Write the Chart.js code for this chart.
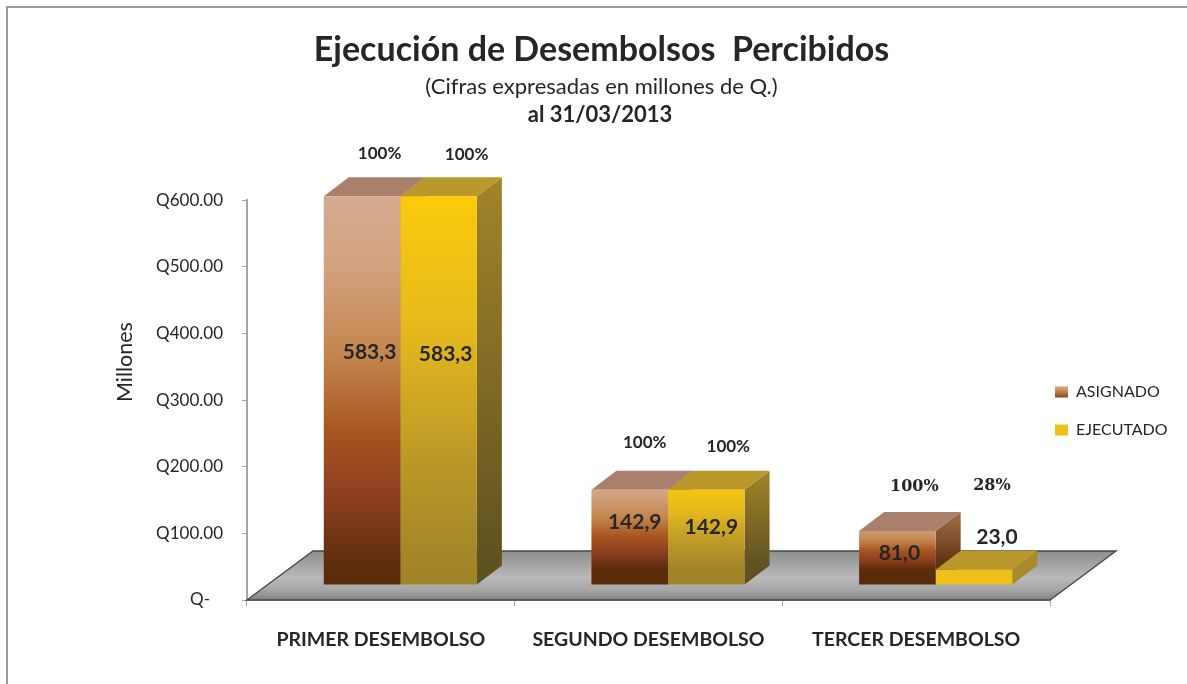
<!DOCTYPE html>
<html>
<head>
<meta charset="utf-8">
<style>html,body{margin:0;padding:0;background:#fff}canvas{display:block}</style>
<script src="https://cdn.jsdelivr.net/npm/chart.js@4"></script>
</head>
<body>
<canvas id="c" width="1187" height="684"></canvas>
<script>
const categories = ['PRIMER DESEMBOLSO', 'SEGUNDO DESEMBOLSO', 'TERCER DESEMBOLSO'];
const asignado = [583.3, 142.9, 81.0];
const ejecutado = [583.3, 142.9, 23.0];
const pctAsignado = [100, 100, 100];
const pctEjecutado = [100, 100, 28];
const yMax = 600, yStep = 100;

// layout of the fake 3D look (pixels)
const SHIFT = {x: 19.5, y: -15};
const DEPTH = {x: 25, y: -19};
const FLOOR = {x: 66, y: -49};
const FF = 'Lato, "Open Sans", sans-serif';
const TXT = '#262626';
const valueOffsets = [[[7.5,156],[5,32],[2,22]], [[7,158],[5,37],[23,-32]]];
const pctOffsets = [[[17.5,-43],[15,-47],[17,-44]], [[28,-42],[22,-43],[18,-84]]];

function vGrad(ctx, top, bottom, stops) {
  const g = ctx.createLinearGradient(0, top, 0, bottom);
  stops.forEach(s => g.addColorStop(s[0], s[1]));
  return g;
}
const S_ASIG = [[0,'#d6ab94'],[0.2,'#d3a482'],[0.45,'#c4854d'],[0.65,'#a7541f'],[0.8,'#8f4020'],[1,'#5b2c0b']];
const S_EJEC = [[0,'#fdcc09'],[0.35,'#e8bb1c'],[0.7,'#bd9a27'],[1,'#a08428']];
function barColor(stops, flat) {
  return c => {
    const ch = c.chart;
    if (c.type !== 'data' || !ch.chartArea) return flat;
    const y = ch.scales.y;
    const t = y.getPixelForValue(c.raw) + SHIFT.y, b = y.getPixelForValue(0) + SHIFT.y;
    if (b - t < 30) return flat;
    return vGrad(ch.ctx, t, b, stops);
  };
}

const pseudo3D = {
  id: 'pseudo3D',
  afterLayout(chart) {
    chart.legend.top += 69; chart.legend.bottom += 69;
    chart.legend.left -= 17; chart.legend.right -= 17;
    const y = chart.scales.y;
    if (!y._titleShifted) {
      const orig = y.drawTitle;
      y.drawTitle = function () {
        this.top -= 38; this.bottom -= 38;
        orig.call(this);
        this.top += 38; this.bottom += 38;
      };
      y._titleShifted = true;
    }
  },
  beforeDraw(chart) {
    const {ctx, width, height} = chart;
    ctx.save();
    ctx.strokeStyle = '#9c9c9c'; ctx.lineWidth = 2;
    ctx.beginPath(); ctx.moveTo(7, height); ctx.lineTo(7, 7); ctx.lineTo(width, 7); ctx.stroke();
    ctx.restore();
  },
  beforeDatasetsDraw(chart) {
    const {ctx, chartArea: a} = chart;
    ctx.save();
    // floor
    const by = chart.scales.y.getPixelForValue(0);
    ctx.beginPath();
    ctx.moveTo(a.left, by); ctx.lineTo(a.right, by);
    ctx.lineTo(a.right + FLOOR.x, by + FLOOR.y); ctx.lineTo(a.left + FLOOR.x, by + FLOOR.y); ctx.closePath();
    ctx.fillStyle = vGrad(ctx, by + FLOOR.y, by, [[0,'#8e8e8e'],[0.55,'#b9b9b9'],[0.8,'#a6a6a6'],[1,'#7f7f7f']]);
    ctx.fill();
    ctx.strokeStyle = '#4a4a3c'; ctx.lineWidth = 1.4; ctx.stroke();
    // tops and sides of each bar
    const tops = ['#a8806c', '#bb982c'];
    const sides = [[[0,'#a36f48'],[1,'#5f300f']], [[0,'#a2842a'],[1,'#5f5120']]];
    [0, 1].forEach(ds => {
      chart.getDatasetMeta(ds).data.forEach(el => {
        const L = el.x - el.width / 2 + SHIFT.x, R = el.x + el.width / 2 + SHIFT.x;
        const T = el.y + SHIFT.y, B = el.base + SHIFT.y;
        ctx.beginPath();
        ctx.moveTo(R, T); ctx.lineTo(R + DEPTH.x, T + DEPTH.y); ctx.lineTo(R + DEPTH.x, B + DEPTH.y); ctx.lineTo(R, B); ctx.closePath();
        ctx.fillStyle = (B - T < 30) ? '#a98a27' : vGrad(ctx, T + DEPTH.y, B + DEPTH.y, sides[ds]);
        ctx.fill();
        ctx.beginPath();
        ctx.moveTo(L, T); ctx.lineTo(L + DEPTH.x, T + DEPTH.y); ctx.lineTo(R + DEPTH.x, T + DEPTH.y); ctx.lineTo(R, T); ctx.closePath();
        ctx.fillStyle = tops[ds];
        ctx.fill();
      });
    });
    ctx.restore();
    ctx.save();
    ctx.translate(SHIFT.x, SHIFT.y);
  },
  afterDatasetsDraw(chart) {
    const {ctx} = chart;
    ctx.restore();
    ctx.save();
    ctx.textAlign = 'center'; ctx.textBaseline = 'middle'; ctx.fillStyle = TXT;
    ctx.font = 'bold 22px ' + FF;
    ctx.fillText('al 31/03/2013', 600, 115);
    const series = [asignado, ejecutado], pcts = [pctAsignado, pctEjecutado];
    [0, 1].forEach(ds => {
      chart.getDatasetMeta(ds).data.forEach((el, i) => {
        const cx = el.x + SHIFT.x, top = el.y + SHIFT.y;
        ctx.font = 'bold 21px ' + FF;
        ctx.fillText(series[ds][i].toFixed(1).replace('.', ','), cx + valueOffsets[ds][i][0], top + valueOffsets[ds][i][1]);
        ctx.font = i === 2 ? 'bold 16px "DejaVu Serif", serif' : 'bold 17px ' + FF;
        ctx.fillText(pcts[ds][i] + '%', cx + pctOffsets[ds][i][0], top + pctOffsets[ds][i][1]);
      });
    });
    ctx.restore();
  }
};

new Chart(document.getElementById('c'), {
  type: 'bar',
  data: {
    labels: categories,
    datasets: [
      {label: 'ASIGNADO', data: asignado, backgroundColor: barColor(S_ASIG, '#c07f49'), borderWidth: 0},
      {label: 'EJECUTADO', data: ejecutado, backgroundColor: barColor(S_EJEC, '#eec01a'), borderWidth: 0}
    ]
  },
  plugins: [pseudo3D],
  options: {
    responsive: false,
    animation: false,
    devicePixelRatio: 1,
    datasets: {bar: {barPercentage: 1, categoryPercentage: 0.572}},
    layout: {padding: {left: 16, right: 0, top: 0, bottom: 0}},
    plugins: {
      tooltip: {enabled: false},
      title: {display: true, text: 'Ejecución de Desembolsos  Percibidos', color: TXT,
        font: {family: FF, size: 34, weight: 'bold'}, padding: {top: 30, bottom: 3}},
      subtitle: {display: true, text: '(Cifras expresadas en millones de Q.)', color: TXT,
        font: {family: FF, size: 22, weight: 'normal'}, padding: {top: 0, bottom: 100}},
      legend: {
        position: 'right',
        maxWidth: 137,
        labels: {
          boxWidth: 13, boxHeight: 11, padding: 22, color: TXT,
          font: {family: FF, size: 16},
          generateLabels(chart) {
            const items = Chart.defaults.plugins.legend.labels.generateLabels(chart);
            const ctx = chart.ctx;
            items[0].fillStyle = vGrad(ctx, 388, 399, [[0,'#d2a07e'],[0.5,'#b8703a'],[1,'#6a3410']]);
            items[1].fillStyle = '#eec01a';
            items.forEach(it => { it.lineWidth = 0; it.strokeStyle = 'transparent'; });
            return items;
          }
        }
      }
    },
    scales: {
      x: {
        grid: {display: true, drawOnChartArea: false, drawTicks: true, tickLength: 6, color: '#a6a6a6', offset: true},
        border: {color: '#a6a6a6', width: 1},
        ticks: {color: TXT, font: {family: FF, size: 19.5, weight: 'bold'}, padding: 22, maxRotation: 0, autoSkip: false},
        afterFit(s) { s.height = 84; }
      },
      y: {
        min: 0, max: yMax,
        grid: {display: true, drawOnChartArea: false, drawTicks: true, tickLength: 5, color: '#a6a6a6'},
        border: {color: '#a6a6a6', width: 2},
        title: {display: true, text: 'Millones', color: TXT, font: {family: FF, size: 21.5}, padding: {top: 96, bottom: 0}},
        ticks: {stepSize: yStep, color: TXT, font: {family: FF, size: 17}, padding: 19,
          callback: v => v === 0 ? 'Q-\u00a0\u00a0\u00a0' : 'Q' + v.toFixed(2)},
        afterFit(s) { s.width = 231; }
      }
    }
  }
});
</script>
</body>
</html>
